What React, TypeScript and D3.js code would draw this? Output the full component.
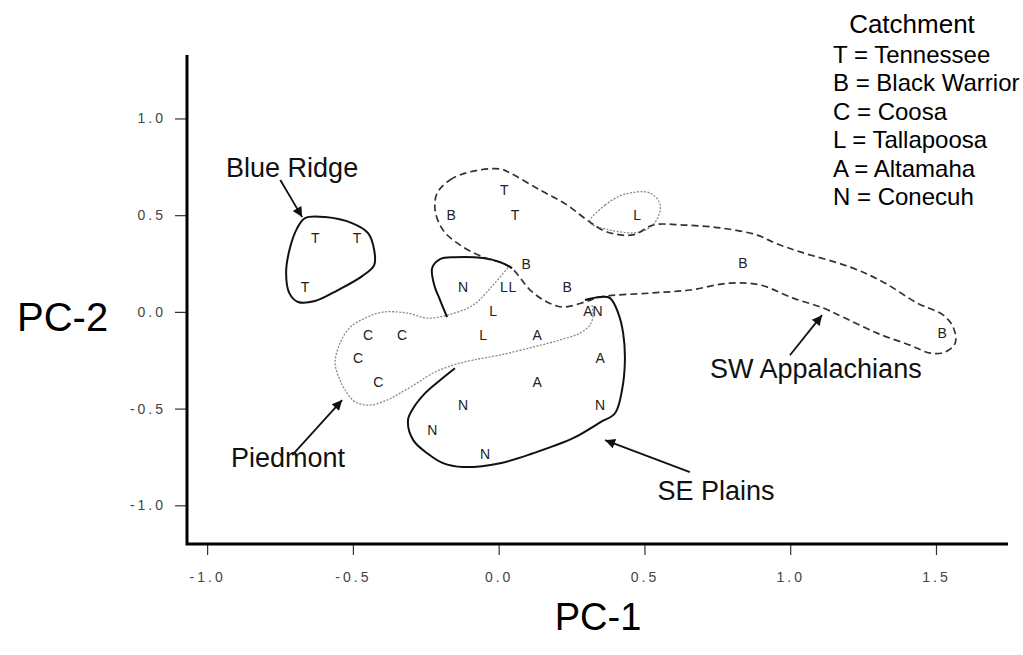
import React, { useEffect, useRef } from 'react';
import * as d3 from 'd3';

// catchment letters plotted at (PC-1, PC-2)
const pointCodes = ['T', 'T', 'T', 'T', 'T', 'B', 'L', 'B', 'B', 'B', 'B', 'N', 'L', 'L', 'L', 'A', 'N', 'C', 'C', 'L', 'A', 'C', 'A', 'C', 'A', 'N', 'N', 'N', 'N'];
const pointPC1 = [-0.629, -0.486, -0.664, 0.019, 0.056, -0.163, 0.475, 0.094, 0.235, 0.838, 1.521, -0.122, 0.018, 0.047, -0.019, 0.306, 0.339, -0.448, -0.331, -0.053, 0.132, -0.482, 0.348, -0.413, 0.132, -0.122, 0.348, -0.228, -0.047];
const pointPC2 = [0.382, 0.382, 0.128, 0.63, 0.5, 0.5, 0.5, 0.247, 0.129, 0.252, -0.11, 0.128, 0.128, 0.128, 0.004, 0.004, 0.004, -0.12, -0.12, -0.12, -0.12, -0.239, -0.239, -0.362, -0.362, -0.482, -0.482, -0.611, -0.736];

// region outlines, [PC-1, PC-2]
const blueRidge = [[-0.664, 0.485], [-0.595, 0.49], [-0.503, 0.459], [-0.448, 0.407], [-0.427, 0.32], [-0.427, 0.242], [-0.468, 0.185], [-0.551, 0.113], [-0.63, 0.056], [-0.688, 0.051], [-0.718, 0.097], [-0.729, 0.206], [-0.715, 0.335], [-0.691, 0.433]];
const swAppalachians = [[-0.211, 0.614], [-0.167, 0.682], [-0.098, 0.724], [0.005, 0.739], [0.039, 0.718], [0.142, 0.63], [0.235, 0.552], [0.313, 0.464], [0.372, 0.413], [0.461, 0.398], [0.53, 0.449], [0.633, 0.449], [0.76, 0.434], [0.887, 0.397], [0.948, 0.356], [1.034, 0.31], [1.205, 0.232], [1.318, 0.155], [1.435, 0.046], [1.525, -0.017], [1.559, -0.079], [1.566, -0.161], [1.531, -0.208], [1.48, -0.213], [1.411, -0.172], [1.298, -0.11], [1.181, -0.027], [1.113, 0.02], [1.01, 0.071], [0.897, 0.139], [0.794, 0.149], [0.656, 0.113], [0.519, 0.097], [0.348, 0.077], [0.296, 0.051], [0.221, 0.025], [0.166, 0.051], [0.108, 0.113], [0.039, 0.232], [-0.053, 0.283], [-0.132, 0.345], [-0.191, 0.423], [-0.218, 0.526]];
const tallapoosaLoop = [[0.313, 0.464], [0.365, 0.552], [0.434, 0.609], [0.52, 0.614], [0.554, 0.552], [0.537, 0.464], [0.485, 0.413], [0.382, 0.423]];
const sePlainsNorth = [[-0.177, -0.027], [-0.201, 0.061], [-0.221, 0.139], [-0.228, 0.227], [-0.201, 0.273], [-0.15, 0.283], [-0.053, 0.278], [0.005, 0.257], [0.046, 0.226]];
const sePlainsSouth = [[0.296, 0.061], [0.348, 0.077], [0.382, 0.071], [0.41, -0.006], [0.427, -0.11], [0.433, -0.249], [0.423, -0.405], [0.399, -0.524], [0.348, -0.571], [0.255, -0.653], [0.118, -0.731], [0.005, -0.782], [-0.122, -0.802], [-0.191, -0.782], [-0.245, -0.731], [-0.293, -0.663], [-0.311, -0.56], [-0.293, -0.498], [-0.252, -0.42], [-0.201, -0.353], [-0.15, -0.291]];
const piedmont = [[0.039, 0.242], [-0.019, 0.139], [-0.088, 0.035], [-0.177, -0.017], [-0.246, -0.032], [-0.314, -0.006], [-0.397, -0.001], [-0.451, -0.027], [-0.509, -0.079], [-0.544, -0.161], [-0.561, -0.265], [-0.544, -0.353], [-0.52, -0.42], [-0.492, -0.466], [-0.441, -0.482], [-0.383, -0.456], [-0.338, -0.42], [-0.28, -0.368], [-0.225, -0.316], [-0.156, -0.275], [-0.088, -0.249], [0.005, -0.223], [0.118, -0.182], [0.211, -0.145], [0.279, -0.11], [0.313, -0.068], [0.324, -0.017], [0.32, 0.035]];

// region labels and their arrows
const regionNames = ['Blue Ridge', 'Piedmont', 'SE Plains', 'SW Appalachians'];
const labelPos = [[-0.935, 0.697], [-0.918, -0.802], [0.545, -0.973], [0.725, -0.342]];
const arrowFrom = [[-0.749, 0.682], [-0.708, -0.74], [0.656, -0.828], [0.999, -0.224]];
const arrowTo = [[-0.674, 0.49], [-0.537, -0.456], [0.365, -0.663], [1.109, -0.017]];

const legendItems = ['T = Tennessee', 'B = Black Warrior', 'C = Coosa', 'L = Tallapoosa', 'A = Altamaha', 'N = Conecuh'];
const xTicks = [-1, -0.5, 0, 0.5, 1, 1.5];
const yTicks = [-1, -0.5, 0, 0.5, 1];

const App = () => {
  const svgRef = useRef(null);

  useEffect(() => {
    document.body.style.margin = '0';
    const width = 1023;
    const height = 655;
    const sans = 'Liberation Sans, Arial, sans-serif';

    const svg = d3.select(svgRef.current).attr('width', width).attr('height', height);
    svg.selectAll('*').remove();

    const x = d3.scaleLinear().domain([-1.069, 1.747]).range([187, 1008]);
    const y = d3.scaleLinear().domain([-1.2, 1.328]).range([544, 55]);

    svg.append('defs').append('marker')
      .attr('id', 'arrow')
      .attr('viewBox', '0 0 10 10')
      .attr('refX', 10).attr('refY', 5)
      .attr('markerWidth', 12).attr('markerHeight', 10)
      .attr('markerUnits', 'userSpaceOnUse')
      .attr('orient', 'auto')
      .append('path').attr('d', 'M0,0 L10,5 L0,10 z').attr('fill', '#111');

    // axes
    const yAxis = svg.append('g')
      .attr('transform', `translate(${x.range()[0]},0)`)
      .call(d3.axisLeft(y).tickValues(yTicks).tickSize(12).tickPadding(9).tickFormat(d => d.toFixed(1)));
    const xAxis = svg.append('g')
      .attr('transform', `translate(0,${y.range()[0]})`)
      .call(d3.axisBottom(x).tickValues(xTicks).tickSize(11).tickPadding(17).tickFormat(d => d.toFixed(1)));
    [xAxis, yAxis].forEach(a => {
      a.select('.domain').remove();
      a.selectAll('line').attr('stroke', '#333').attr('stroke-width', 1.2);
      a.selectAll('text')
        .attr('font-family', sans).attr('font-size', 14)
        .attr('letter-spacing', 3).attr('fill', '#444');
    });
    svg.append('path')
      .attr('d', `M${x.range()[0]},${y.range()[1]} V${y.range()[0]} H${x.range()[1]}`)
      .attr('fill', 'none').attr('stroke', '#000').attr('stroke-width', 3);

    svg.append('text').attr('x', 17).attr('y', 331)
      .attr('font-family', sans).attr('font-size', 40).text('PC-2');
    svg.append('text').attr('x', 598).attr('y', 630).attr('text-anchor', 'middle')
      .attr('font-family', sans).attr('font-size', 38).text('PC-1');

    // outlines
    const closed = d3.line().x(d => x(d[0])).y(d => y(d[1])).curve(d3.curveCatmullRomClosed.alpha(0.5));
    const open = d3.line().x(d => x(d[0])).y(d => y(d[1])).curve(d3.curveCatmullRom.alpha(0.5));

    svg.append('path').attr('d', open(piedmont))
      .attr('fill', 'none').attr('stroke', '#8a8a8a').attr('stroke-width', 1.3).attr('stroke-dasharray', '2,1.5');
    svg.append('path').attr('d', closed(tallapoosaLoop))
      .attr('fill', 'none').attr('stroke', '#8a8a8a').attr('stroke-width', 1.3).attr('stroke-dasharray', '2,1.5');
    svg.append('path').attr('d', closed(swAppalachians))
      .attr('fill', 'none').attr('stroke', '#333').attr('stroke-width', 1.7).attr('stroke-dasharray', '7,4');
    svg.append('path').attr('d', closed(blueRidge))
      .attr('fill', 'none').attr('stroke', '#111').attr('stroke-width', 2);
    [sePlainsNorth, sePlainsSouth].forEach(seg => {
      svg.append('path').attr('d', open(seg))
        .attr('fill', 'none').attr('stroke', '#111').attr('stroke-width', 2);
    });

    // points as catchment letters
    svg.append('g').selectAll('text')
      .data(pointCodes)
      .enter()
      .append('text')
      .attr('x', (d, i) => x(pointPC1[i]))
      .attr('y', (d, i) => y(pointPC2[i]))
      .attr('dy', '0.36em')
      .attr('text-anchor', 'middle')
      .attr('font-family', sans).attr('font-size', 14).attr('fill', '#222')
      .text(d => d);

    // region labels + arrows
    svg.append('g').selectAll('line')
      .data(regionNames)
      .enter()
      .append('line')
      .attr('x1', (d, i) => x(arrowFrom[i][0])).attr('y1', (d, i) => y(arrowFrom[i][1]))
      .attr('x2', (d, i) => x(arrowTo[i][0])).attr('y2', (d, i) => y(arrowTo[i][1]))
      .attr('stroke', '#111').attr('stroke-width', 1.8)
      .attr('marker-end', 'url(#arrow)');
    svg.append('g').selectAll('text')
      .data(regionNames)
      .enter()
      .append('text')
      .attr('x', (d, i) => x(labelPos[i][0]))
      .attr('y', (d, i) => y(labelPos[i][1]))
      .attr('font-family', sans).attr('font-size', 27).attr('fill', '#111')
      .text(d => d);

    // legend
    svg.append('text').attr('x', 912).attr('y', 33).attr('text-anchor', 'middle')
      .attr('font-family', sans).attr('font-size', 26).text('Catchment');
    svg.append('g').selectAll('text')
      .data(legendItems)
      .enter()
      .append('text')
      .attr('x', 833)
      .attr('y', (d, i) => 63 + i * 28.4)
      .attr('font-family', sans).attr('font-size', 24)
      .text(d => d);
  }, []);

  return (
    <div>
      <svg ref={svgRef}></svg>
    </div>
  );
};

export default App;
